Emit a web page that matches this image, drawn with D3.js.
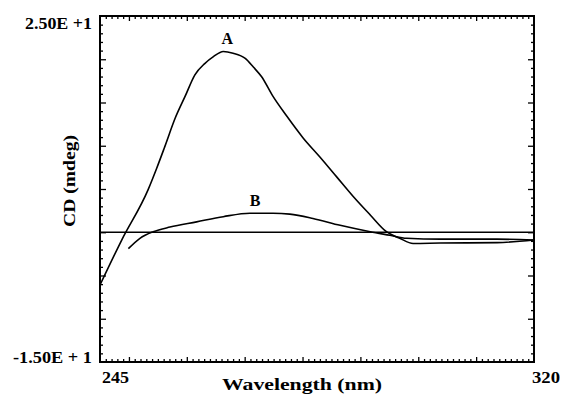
<!DOCTYPE html>
<html>
<head>
<meta charset="utf-8">
<script src="https://cdn.jsdelivr.net/npm/d3@7/dist/d3.min.js"></script>
<style>
  html, body { margin: 0; padding: 0; background: #fff; }
  text { font-family: "Liberation Serif", "Times New Roman", serif; font-weight: bold; fill: #000; }
</style>
</head>
<body>
<svg id="chart" width="562" height="394"></svg>
<script>
// ---- data ----
const wavelengthsA = [245, 248.75, 253.3, 254.8, 256.2, 258.0, 259.7, 261.4, 263.1, 264.6, 266.3, 268.0, 270.1, 271.5, 272.9, 274.9, 277.3, 280.1, 283.0, 285.9, 288.8, 291.7, 294.5, 296.8, 299.1, 303.8, 313.6, 320];
const cdA          = [-6.1, -0.9, 4.9, 7.4, 9.9, 13.2, 15.7, 18.2, 19.5, 20.3, 20.9, 20.7, 20.1, 19.1, 18.0, 15.7, 13.4, 10.9, 8.7, 6.4, 4.1, 2.0, 0.06, -0.7, -1.3, -1.25, -1.2, -0.9];
const wavelengthsB = [249.9, 251.9, 254.2, 257.1, 261.7, 266.3, 270.9, 274.9, 277.8, 281.8, 286.5, 291.7, 295.1, 298.0, 303.8, 313.6, 320];
const cdB          = [-1.9, -0.7, 0.06, 0.6, 1.2, 1.8, 2.2, 2.2, 2.1, 1.6, 0.8, 0.06, -0.35, -0.7, -0.8, -0.8, -0.9];
const baselineW    = [245, 320];
const baselineCD   = [0, 0];
const xDomain = [245, 320];
const yDomain = [-15, 25];
const xTickLabels = ["245", "320"];
const yTickLabels = ["2.50E +1", "-1.50E + 1"];
const curveLabels = ["A", "B"];
const xTitle = "Wavelength  (nm)";
const yTitle = "CD (mdeg)";

// ---- layout ----
const L = 100, R = 534, T = 16, B = 362;
const svg = d3.select("#chart");
const x = d3.scaleLinear().domain(xDomain).range([L, R]);
const y = d3.scaleLinear().domain(yDomain).range([B, T]);

const minorX = d3.range(246, 320, 1).filter(v => v % 10 !== 0);
const majorX = d3.range(250, 320, 10);
const minorY = d3.range(-14, 25, 1).filter(v => v % 5 !== 0);
const majorY = d3.range(-10, 25, 5);

function addAxis(axisFn, scale, values, size, transform) {
  const g = svg.append("g").attr("transform", transform)
    .call(axisFn(scale).tickValues(values).tickSize(size).tickFormat(""));
  g.select(".domain").remove();
  g.selectAll(".tick line").attr("stroke", "#000").attr("stroke-width", 1.3);
}
addAxis(d3.axisTop, x, minorX, 3, `translate(0,${B})`);
addAxis(d3.axisTop, x, majorX, 5, `translate(0,${B})`);
addAxis(d3.axisBottom, x, minorX, 3, `translate(0,${T})`);
addAxis(d3.axisBottom, x, majorX, 5, `translate(0,${T})`);
addAxis(d3.axisRight, y, minorY, 3, `translate(${L},0)`);
addAxis(d3.axisRight, y, majorY, 6, `translate(${L},0)`);
addAxis(d3.axisLeft, y, minorY, 3, `translate(${R},0)`);
addAxis(d3.axisLeft, y, majorY, 6, `translate(${R},0)`);

// frame
svg.append("rect").attr("x", L).attr("y", T).attr("width", R - L).attr("height", B - T)
  .attr("fill", "none").attr("stroke", "#000").attr("stroke-width", 2);

// lines
const line = d3.line().x(d => x(d[0])).y(d => y(d[1])).curve(d3.curveMonotoneX);
svg.append("path").datum(d3.zip(baselineW, baselineCD)).attr("d", line)
  .attr("fill", "none").attr("stroke", "#000").attr("stroke-width", 1.6);
svg.append("path").datum(d3.zip(wavelengthsA, cdA)).attr("d", line)
  .attr("fill", "none").attr("stroke", "#000").attr("stroke-width", 1.6).attr("stroke-linejoin", "round");
svg.append("path").datum(d3.zip(wavelengthsB, cdB)).attr("d", line)
  .attr("fill", "none").attr("stroke", "#000").attr("stroke-width", 1.6).attr("stroke-linejoin", "round");

// tick labels
svg.append("text").attr("x", 92).attr("y", 29).attr("text-anchor", "end")
  .attr("font-size", 16).attr("textLength", 67).attr("lengthAdjust", "spacingAndGlyphs").text(yTickLabels[0]);
svg.append("text").attr("x", 92).attr("y", 363).attr("text-anchor", "end")
  .attr("font-size", 16).attr("textLength", 79).attr("lengthAdjust", "spacingAndGlyphs").text(yTickLabels[1]);
svg.append("text").attr("x", x(xDomain[0]) + 2).attr("y", 383)
  .attr("font-size", 16).attr("textLength", 27).attr("lengthAdjust", "spacingAndGlyphs").text(xTickLabels[0]);
svg.append("text").attr("x", 560).attr("y", 383).attr("text-anchor", "end")
  .attr("font-size", 16).attr("textLength", 28).attr("lengthAdjust", "spacingAndGlyphs").text(xTickLabels[1]);

// axis titles
svg.append("text").attr("x", 302).attr("y", 390).attr("text-anchor", "middle")
  .attr("font-size", 17).attr("textLength", 160).attr("lengthAdjust", "spacingAndGlyphs").text(xTitle);
svg.append("text").attr("transform", "translate(75,181) rotate(-90)").attr("text-anchor", "middle")
  .attr("font-size", 17).attr("textLength", 92).attr("lengthAdjust", "spacingAndGlyphs").text(yTitle);

// curve labels
svg.append("text").attr("x", x(267)).attr("y", 44).attr("text-anchor", "middle")
  .attr("font-size", 16).text(curveLabels[0]);
svg.append("text").attr("x", x(271.8)).attr("y", 206).attr("text-anchor", "middle")
  .attr("font-size", 16).text(curveLabels[1]);
</script>
</body>
</html>
